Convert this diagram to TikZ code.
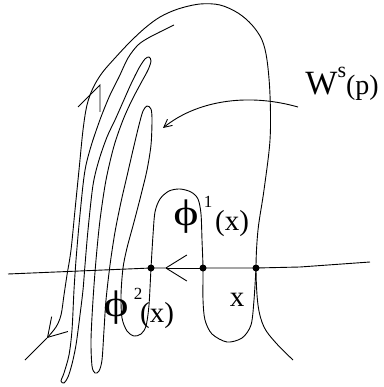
\documentclass[tikz,border=0pt]{standalone}
\usepackage{fontspec}
\setmainfont{Liberation Serif}
\usetikzlibrary{arrows.meta}

\begin{document}
\begin{tikzpicture}[x=1pt, y=-1pt, line width=0.9pt,
    dot/.style = {circle, fill, inner sep=0pt, minimum size=7pt},
    phisym/.style = {inner sep=0pt, font=\fontsize{37}{37}\selectfont},
    lbl/.style = {inner sep=0pt, font=\fontsize{29}{29}\selectfont},
    idx/.style = {inner sep=0pt, font=\fontsize{17}{17}\selectfont}]
    \useasboundingbox (0,0) rectangle (383,387);

    \node[dot] (d1) at (151,268) {};
    \node[dot] (d2) at (203,268) {};
    \node[dot] (d3) at (256,268) {};

    \coordinate (lend) at (8,274);
    \coordinate (rkink) at (300,267);
    \coordinate (rend) at (370,262);
    \coordinate (htip) at (165,268);
    \coordinate (utip) at (47,338);
    \coordinate (uend) at (25,360);
    \coordinate (wstart) at (298,107);
    \coordinate (wtip) at (163,128);

    % the horizontal line
    \draw[-{Straight Barb[length=21pt,width=26pt]}] (d2.center) -- (htip);
    \draw (htip) -- (d1.center) -- (lend);
    \draw (d2.center) -- (d3.center) -- (rkink) -- (rend);

    % outer branch
    \draw[-{Straight Barb[length=18pt,width=22pt]}] plot[smooth, tension=0.55] coordinates {
        (293,360) (276,343) (264,327) (258,305) (d3.center) (258,230) (264,190)
        (270,140) (270,95) (267,60) (262,40) (252,25) (238,13) (220,5) (200,4)
        (178,9) (160,17) (145,28) (130,42) (115,58) (102,73) (93,88) (87,105)
        (83,130) (79,170) (75,210) (71,250) (67,275) (64,295) (61,315) (56,327) (utip)};
    \draw (utip) -- (uend);

    % folded branch
    \draw plot[smooth, tension=0.5] coordinates {
        (174,25) (150,37) (138,45) (128,58) (119,77) (110,95) (101,117) (92,143)
        (86,165) (83,185) (79,225) (76,260) (74,290) (72,330) (69,355) (64,373)
        (61,381) (64,383) (68,377) (72,364) (76,345) (80,315) (83,290) (85,265)
        (88,230) (93,185) (99,160) (107,137) (115,120) (123,102) (131,84) (139,68)
        (145,59) (149,57) (151,61) (148,70) (141,83) (132,100) (123,120) (114,146)
        (106,180) (100,220) (96,260) (93,300) (91,340) (92,366) (95,373) (99,371)
        (102,360) (104,330) (106,300) (110,265) (115,232) (121,202) (127,176)
        (133,150) (139,125) (143,111) (147,106) (151,109) (152,120) (151,145)
        (147,170) (141,195) (134,222) (127,248) (123,268) (121,295) (122,318)
        (127,331) (134,336) (141,334) (146,326) (149,305) (d1.center) (153,235)
        (155,212) (160,199) (169,191) (180,189) (191,192) (198,199) (201,214)
        (202,240) (d2.center) (203,300) (205,320) (212,334) (227,342) (242,338)
        (251,325) (254,300) (d3.center)};

    % arrow on the fold
    \draw (78,107) -- (100,85) -- (100,112);

    % pointer from the label
    \draw[-{Straight Barb[length=8pt,width=8pt]}] (wstart) .. controls (245,92) and (195,102) .. (wtip);

    \node[phisym] (phione) at (186,217) {\scalebox{1.3}[1]{ϕ}};
    \node[idx] (one) at (208,202) {1};
    \node[lbl] (argone) at (232,224) {(x)};
    \node[phisym] (phitwo) at (116,308) {\scalebox{1.3}[1]{ϕ}};
    \node[idx] (two) at (138,294) {2};
    \node[lbl] (argtwo) at (157,316) {(x)};
    \node[lbl] (xpt) at (237,300) {x};
    \node[inner sep=0pt, anchor=base west] (ws) at (305,95)
        {\fontsize{34}{34}\selectfont W\raisebox{17pt}{\fontsize{22}{22}\selectfont s}\fontsize{28}{28}\selectfont (p)};
\end{tikzpicture}
\end{document}
